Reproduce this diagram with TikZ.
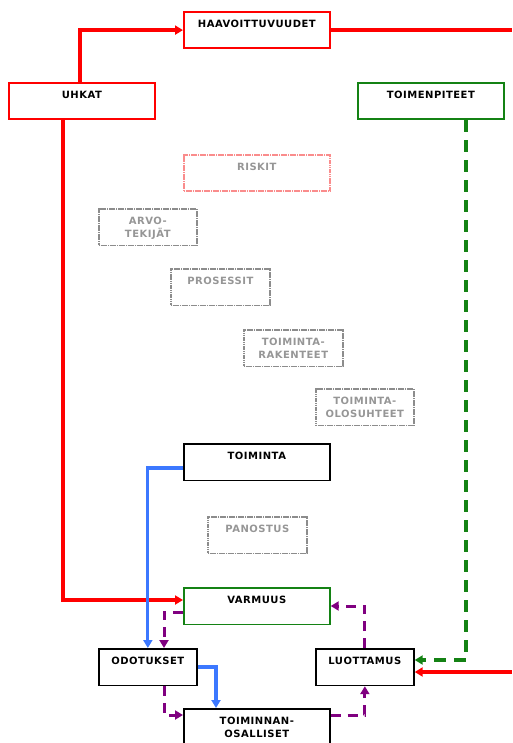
\documentclass[tikz,border=0pt]{standalone}
\usepackage{fontspec}
\setmainfont{DejaVu Sans}[LetterSpace=5]
\usetikzlibrary{arrows.meta}
\definecolor{dgreen}{RGB}{20,130,20}
\definecolor{dpurple}{RGB}{128,0,128}
\definecolor{lblue}{RGB}{60,120,255}
\definecolor{gtext}{RGB}{150,150,150}
\definecolor{gbord}{RGB}{140,140,140}
\definecolor{pinkb}{RGB}{250,140,140}
\begin{document}
\begin{tikzpicture}[x=1pt,y=-1pt,
  box/.style={draw, line width=1.7pt, anchor=north west, align=center,
    font=\bfseries\fontsize{10}{13}\selectfont, text height=8pt, text depth=12.5pt,
    inner ysep=8pt, inner xsep=0pt, text width=#1},
  box/.default=146pt,
  ghost/.style={box=#1, draw=gbord, text=gtext, line width=1.6pt, dash pattern=on 1.3pt off 0.5pt},
  ghost/.default=98pt,
  tip/.style={-{Triangle[length=8pt,width=9pt]}},
  redc/.style={draw=red, line width=3.2pt, tip},
  bluec/.style={draw=lblue, line width=3.2pt, tip},
  greenc/.style={draw=dgreen, line width=3.2pt, dash pattern=on 12pt off 8pt, tip},
  purc/.style={draw=dpurple, line width=3pt, dash pattern=on 10pt off 7pt, tip}
]
\useasboundingbox (0,0) rectangle (512,743);

\node[box, draw=red] (haav) at (183,11) {HAAVOITTUVUUDET};
\node[box, draw=red] (uhkat) at (8,82) {UHKAT};
\node[box, draw=dgreen] (toimenp) at (357,82) {TOIMENPITEET};
\node[ghost=146pt, draw=pinkb] (riskit) at (183,154) {RISKIT};
\node[ghost] (arvo) at (98,208) {ARVO-\\TEKIJÄT};
\node[ghost=99pt] (prosessit) at (170,268) {PROSESSIT};
\node[ghost=99pt] (rakenteet) at (243,329) {TOIMINTA-\\RAKENTEET};
\node[ghost] (olosuhteet) at (315,388) {TOIMINTA-\\OLOSUHTEET};
\node[box, draw=black] (toiminta) at (183,443) {TOIMINTA};
\node[ghost=99pt] (panostus) at (207,516) {PANOSTUS};
\node[box, draw=dgreen] (varmuus) at (183,587) {VARMUUS};
\node[box=98pt, draw=black] (odotukset) at (98,648) {ODOTUKSET};
\node[box=98pt, draw=black] (luottamus) at (315,648) {LUOTTAMUS};
\node[box, draw=black] (osalliset) at (183,708) {TOIMINNAN-\\OSALLISET};

\coordinate (redout) at (512,29);
\coordinate (redin) at (512,672);

% red
\draw[redc] ([xshift=72pt]uhkat.north west) |- (haav.west);
\draw[redc, -] (haav.east) -- (haav.east -| redout);
\draw[redc] ([xshift=55pt]uhkat.south west) |- ([yshift=-13pt]varmuus.north west);
\draw[redc] (redin) -- (luottamus.east |- redin);

% green
\draw[greenc] ([xshift=109pt]toimenp.south west) |- ([yshift=-12pt]luottamus.north east);

% blue
\draw[bluec] ([yshift=-25pt]toiminta.north west) -| (odotukset.north);
\draw[bluec] ([yshift=-19pt]odotukset.north east) -| ([xshift=33pt]osalliset.north west);

% purple
\draw[purc] ([yshift=-25pt]varmuus.north west) -| ([xshift=66pt]odotukset.north west);
\draw[purc] ([xshift=66pt]odotukset.south west) |- ([yshift=-7pt]osalliset.north west);
\draw[purc] ([yshift=-7pt]osalliset.north east) -| (luottamus.south);
\draw[purc] (luottamus.north) |- ([yshift=-19pt]varmuus.north east);
\end{tikzpicture}
\end{document}
